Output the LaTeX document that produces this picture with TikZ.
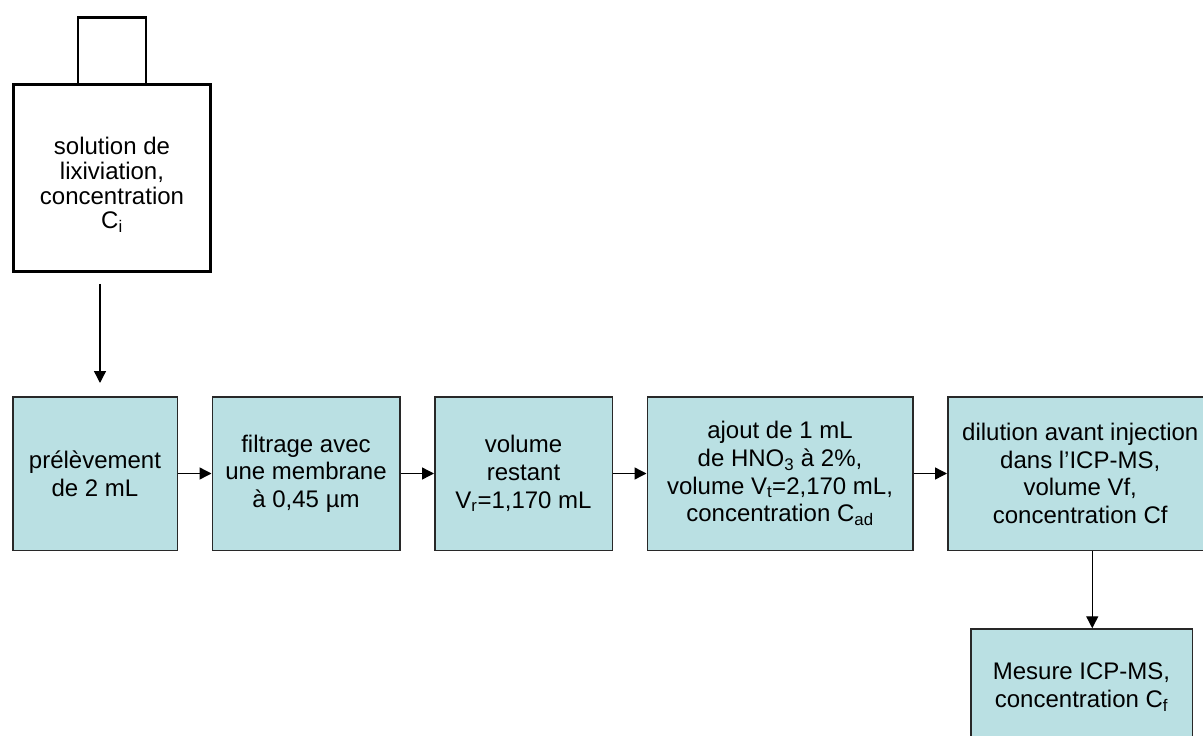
\documentclass[tikz,border=0pt]{standalone}
\usepackage{fontspec}
\setmainfont{Liberation Sans}
\usetikzlibrary{positioning,arrows.meta}
\definecolor{boxfill}{RGB}{186,224,227}
\definecolor{boxline}{RGB}{40,40,40}
\begin{document}
\begin{tikzpicture}[x=1pt,y=-1pt,
  etape/.style={draw=boxline,fill=boxfill,line width=1.5pt,inner sep=0pt,
    minimum height=153.5pt,align=center,font=\fontsize{24}{27.7}\selectfont},
  fleche/.style={draw=black,line width=1.4pt,-{Triangle[length=12pt,width=12pt]}},
  node distance=33.5pt]
\useasboundingbox (0,0) rectangle (1203,736);
\clip (0,0) rectangle (1203,736);
% flacon
\node[draw,line width=2.8pt,minimum width=197pt,minimum height=187pt,inner sep=0pt,
  label={[name=flacontexte,align=center,yshift=-7pt,font=\fontsize{24}{24.7}\selectfont]center:solution de\\lixiviation,\\concentration\\C\textsubscript{i}}]
  (flacon) at (112,178) {};
\draw[line width=2.8pt,line join=miter] ([xshift=-34pt]flacon.north) -- ++(0,-66) -- ++(68,0) -- ++(0,66);
% etapes
\node[etape,minimum width=164.5pt] (prel) at (95,473.5) {prélèvement\\de 2 mL};
\node[etape,minimum width=187.5pt,right=of prel] (filt) {filtrage avec\\une membrane\\à 0,45 µm};
\node[etape,minimum width=177.5pt,right=of filt] (rest) {volume\\restant\\V\textsubscript{r}=1,170 mL};
\node[etape,minimum width=265.5pt,right=of rest] (ajout) {ajout de 1 mL\\de HNO\textsubscript{3} à 2\%,\\volume V\textsubscript{t}=2,170 mL,\\concentration C\textsubscript{ad}};
\node[etape,minimum width=265pt,right=of ajout] (dilu) {dilution avant injection\\dans l’ICP-MS,\\volume Vf,\\concentration Cf};
\node[etape,minimum width=221.5pt,minimum height=116pt] (mesure) at (1081.5,687) {Mesure ICP-MS,\\concentration C\textsubscript{f}};
% fleches
\draw[fleche,shorten <=11pt,shorten >=13pt] ([xshift=-12pt]flacon.south) -- ([xshift=-12pt]flacon.south |- prel.north);
\draw[fleche] (prel) -- (filt);
\draw[fleche] (filt) -- (rest);
\draw[fleche] (rest) -- (ajout);
\draw[fleche] (ajout) -- (dilu);
\draw[fleche] ([xshift=12pt]dilu.south) -- ([xshift=12pt]dilu.south |- mesure.north);
\end{tikzpicture}
\end{document}
